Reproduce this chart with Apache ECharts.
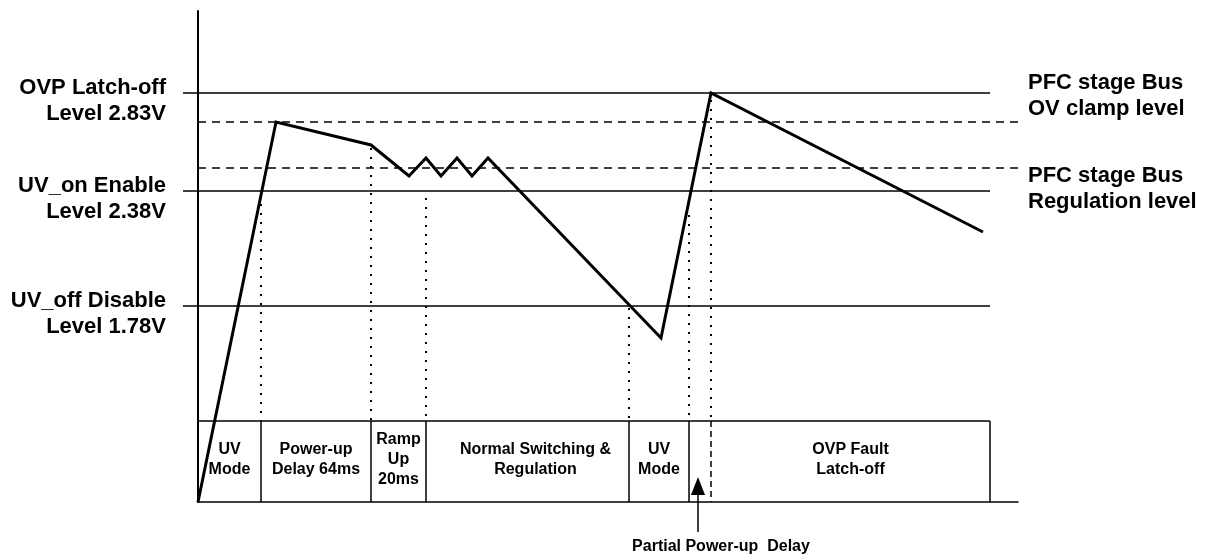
<!DOCTYPE html>
<html>
<head>
<meta charset="utf-8">
<title>PFC bus timing</title>
<script src="https://cdn.jsdelivr.net/npm/echarts@6/dist/echarts.min.js"></script>
<style>
    html, body { margin: 0; padding: 0; background: #fff; }
    .chart { width: 1205px; height: 556px; }
</style>
</head>
<body>
<div class="timing"><div class="chart"></div></div>
<script>
// diagram units: x = time (arb.), y = bus level (arb.), 0 at the baseline
var levelNames = ['OVP Latch-off\nLevel 2.83V', 'UV_on Enable\nLevel 2.38V', 'UV_off Disable\nLevel 1.78V'];
var levelValues = [409, 311, 196];
var busNames = ['PFC stage Bus\nOV clamp level', 'PFC stage Bus\nRegulation level'];
var busValues = [380, 334];
var waveX = [0, 78, 173, 211, 228, 243, 259, 274, 290, 463, 513, 785];
var waveY = [0, 380, 357, 326, 344, 326, 344, 326, 344, 164, 409, 270];
var markerX = [63, 173, 228, 431, 491, 513];
var markerTop = [307, 354, 304, 194, 287, 402];
var phaseStart = [0, 63, 173, 228, 431, 491, 513];
var phaseEnd = [63, 173, 228, 431, 491, 513, 792];
var phaseNames = ['UV\nMode', 'Power-up\nDelay 64ms', 'Ramp\nUp\n20ms', 'Normal Switching &\nRegulation', 'UV\nMode', '', 'OVP Fault\nLatch-off'];
var boxTop = 81;
var levelEnd = 792;
var axisEnd = 820;
var axisTop = 491;
var arrowX = 500;
var arrowFrom = -30;
var arrowTo = 25;
var arrowText = 'Partial Power-up  Delay';

(function () {
    var myChart = echarts.init(document.querySelector('.timing .chart'));
    var font = '"Liberation Sans", Arial, sans-serif';
    var labelText = {
        color: '#000',
        fontFamily: font,
        fontWeight: 'bold',
        fontSize: 22,
        lineHeight: 26
    };

    var series = [];

    // 实线电平 (solid levels)
    levelValues.forEach(function (v) {
        series.push({
            type: 'line',
            data: [[0, v], [levelEnd, v]],
            showSymbol: false,
            silent: true,
            lineStyle: { color: '#000', width: 1.5 },
            z: 2
        });
    });

    // 虚线电平 (dashed bus levels)
    busValues.forEach(function (v) {
        series.push({
            type: 'line',
            data: [[0, v], [axisEnd, v]],
            showSymbol: false,
            silent: true,
            lineStyle: { color: '#000', width: 1.5, type: [8, 6] },
            z: 2
        });
    });

    // 点线标记 (dotted markers)
    markerX.forEach(function (x, i) {
        series.push({
            type: 'line',
            data: [[x, markerTop[i]], [x, boxTop]],
            showSymbol: false,
            silent: true,
            lineStyle: { color: '#000', width: 2, type: [2, 7] },
            z: 2
        });
    });

    // 模式框 (phase boxes)
    series.push({
        type: 'custom',
        silent: true,
        data: phaseStart.map(function (s, i) {
            return [s, phaseEnd[i]];
        }),
        renderItem: function (params, api) {
            var x0 = api.value(0);
            var x1 = api.value(1);
            var tl = api.coord([x0, boxTop]);
            var tr = api.coord([x1, boxTop]);
            var br = api.coord([x1, 0]);
            var mid = api.coord([(x0 + x1) / 2, boxTop / 2]);
            var dashed = params.dataIndex === 5;
            return {
                type: 'group',
                children: [{
                    type: 'line',
                    shape: { x1: tl[0], y1: tl[1], x2: tr[0], y2: tr[1] },
                    style: { stroke: '#000', lineWidth: 1.5 }
                }, {
                    type: 'line',
                    shape: { x1: tr[0], y1: tr[1], x2: br[0], y2: br[1] },
                    style: { stroke: '#000', lineWidth: 1.5, lineDash: dashed ? [6, 4] : null }
                }, {
                    type: 'text',
                    x: mid[0] + (params.dataIndex === 3 ? 8 : 0),
                    y: mid[1] - 2,
                    style: {
                        text: phaseNames[params.dataIndex],
                        align: 'center',
                        verticalAlign: 'middle',
                        fontFamily: font,
                        fontWeight: 'bold',
                        fontSize: 16,
                        lineHeight: 20,
                        fill: '#000'
                    }
                }]
            };
        },
        z: 3
    });

    // 母线电压波形 (bus waveform)
    series.push({
        type: 'line',
        data: waveX.map(function (x, i) {
            return [x, waveY[i]];
        }),
        showSymbol: false,
        silent: true,
        lineStyle: { color: '#000', width: 3, join: 'miter' },
        z: 5
    });

    // arrow + caption under the baseline
    series.push({
        type: 'custom',
        silent: true,
        clip: false,
        data: [[arrowX, arrowFrom, arrowTo]],
        renderItem: function (params, api) {
            var a = api.coord([api.value(0), api.value(1)]);
            var b = api.coord([api.value(0), api.value(2)]);
            return {
                type: 'group',
                children: [{
                    type: 'line',
                    shape: { x1: a[0], y1: a[1], x2: b[0], y2: b[1] + 14 },
                    style: { stroke: '#000', lineWidth: 1.5 }
                }, {
                    type: 'polygon',
                    shape: { points: [[b[0], b[1]], [b[0] - 7, b[1] + 18], [b[0] + 7, b[1] + 18]] },
                    style: { fill: '#000' }
                }, {
                    type: 'text',
                    x: a[0] + 23,
                    y: a[1] + 15,
                    style: {
                        text: arrowText,
                        align: 'center',
                        verticalAlign: 'middle',
                        fontFamily: font,
                        fontWeight: 'bold',
                        fontSize: 16,
                        fill: '#000'
                    }
                }]
            };
        },
        z: 6
    });

    // left axis: the levels, tick stubs and their names
    var yAxes = [{
        type: 'value',
        min: 0,
        max: axisTop,
        axisLine: { show: true, lineStyle: { color: '#000', width: 2 } },
        axisTick: {
            show: true,
            customValues: levelValues,
            length: 15,
            lineStyle: { color: '#000', width: 1.5 }
        },
        axisLabel: {
            show: true,
            customValues: levelValues,
            margin: 32,
            formatter: function (v) {
                var lines = levelNames[levelValues.indexOf(v)].split('\n');
                // spacer line pushes the two-line label below its level
                return '{s| }\n{t|' + lines[0] + '}\n{t|' + lines[1] + '}';
            },
            rich: {
                s: { fontSize: 10, lineHeight: 16 },
                t: Object.assign({ align: 'right' }, labelText)
            }
        },
        splitLine: { show: false }
    }];

    // right side: one hidden axis per dashed bus level, just for its name
    busValues.forEach(function (v, i) {
        var lines = busNames[i].split('\n');
        var body = '{t|' + lines[0] + '}\n{t|' + lines[1] + '}';
        yAxes.push({
            type: 'value',
            position: 'right',
            min: 0,
            max: axisTop,
            axisLine: { show: false },
            axisTick: { show: false },
            splitLine: { show: false },
            axisLabel: {
                show: true,
                customValues: [v],
                margin: 10,
                // clamp label sits above its line, regulation label below
                formatter: i === 0 ? body + '\n{up| }' : '{down| }\n' + body,
                rich: {
                    up: { fontSize: 10, lineHeight: 52 },
                    down: { fontSize: 10, lineHeight: 42 },
                    t: Object.assign({ align: 'left' }, labelText)
                }
            }
        });
    });

    var option = {
        animation: false,
        backgroundColor: '#fff',
        grid: {
            left: 198,
            right: 1205 - 198 - axisEnd,
            top: 11,
            bottom: 54,
            containLabel: false,
            outerBoundsMode: 'none'
        },
        xAxis: {
            type: 'value',
            min: 0,
            max: axisEnd,
            axisLine: { show: true, onZero: false, lineStyle: { color: '#000', width: 1.5 } },
            axisTick: { show: false },
            axisLabel: { show: false },
            splitLine: { show: false }
        },
        yAxis: yAxes,
        series: series
    };

    myChart.setOption(option);
    window.addEventListener('resize', function () {
        myChart.resize();
    });
})();
</script>
</body>
</html>
